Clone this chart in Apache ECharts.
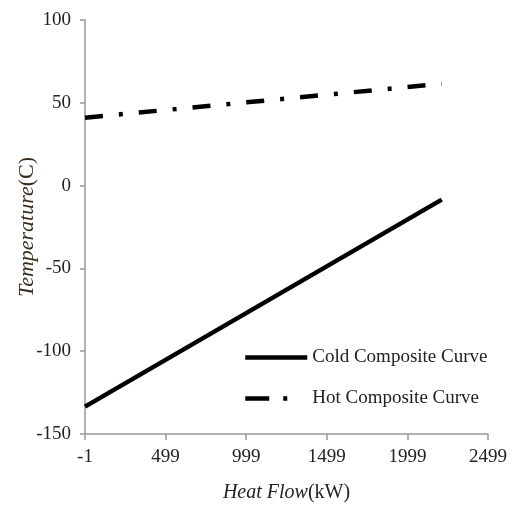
<!DOCTYPE html>
<html>
<head>
<meta charset="utf-8">
<script src="https://cdn.jsdelivr.net/npm/echarts@6/dist/echarts.min.js"></script>
<style>
  html, body { margin: 0; padding: 0; background: #fff; }
  #chart { width: 513px; height: 505px; }
</style>
</head>
<body>
<div id="chart"></div>
<script>
// 数据
var heatFlow = [-1, 2212];
var coldTemp = [-133.5, -8.5];
var hotTemp = [41, 61.5];
var seriesNames = ["Cold Composite Curve", "Hot Composite Curve"];

var chart = echarts.init(document.getElementById("chart"));
var font = "'Liberation Serif', 'DejaVu Serif', serif";
var textColor = "#222";

function pairs(xs, ys) {
  return xs.map(function (x, i) { return [x, ys[i]]; });
}

var option = {
  animation: false,
  textStyle: { fontFamily: font },
  grid: { left: 85, right: 25, top: 20, bottom: 71, outerBoundsMode: "none", containLabel: false },
  legend: {
    orient: "vertical",
    left: 238,
    top: 343,
    itemWidth: 62,
    itemHeight: 10,
    itemGap: 22,
    itemStyle: { opacity: 0 },
    lineStyle: { width: 4.5 },
    textStyle: { fontFamily: font, fontSize: 19, color: textColor },
    data: [
      { name: seriesNames[0] },
      { name: seriesNames[1], lineStyle: { width: 4.5, type: [24, 14, 4, 40] } }
    ]
  },
  xAxis: {
    type: "value",
    min: -1,
    max: 2499,
    interval: 500,
    name: "{i|Heat Flow}{n|(kW)}",
    nameLocation: "middle",
    nameGap: 49,
    nameTextStyle: {
      rich: {
        i: { fontFamily: font, fontSize: 20, fontStyle: "italic", color: textColor },
        n: { fontFamily: font, fontSize: 20, color: textColor }
      }
    },
    splitLine: { show: false },
    axisLine: { onZero: false, lineStyle: { color: "#999", width: 1.5 } },
    axisTick: { show: true, length: 6, lineStyle: { color: "#999", width: 1.5 } },
    axisLabel: {
      fontFamily: font, fontSize: 19, color: textColor, margin: 14,
      formatter: function (v) { return String(v); }
    }
  },
  yAxis: {
    type: "value",
    min: -150,
    max: 100,
    interval: 50,
    name: "{i|Temperature}{n|(C)}",
    nameLocation: "middle",
    nameGap: 47,
    nameMoveOverlap: false,
    nameRotate: 90,
    nameTextStyle: {
      rich: {
        i: { fontFamily: font, fontSize: 22, fontStyle: "italic", color: "#3a2a1a" },
        n: { fontFamily: font, fontSize: 22, color: "#3a2a1a" }
      }
    },
    splitLine: { show: false },
    axisLine: { show: true, onZero: false, lineStyle: { color: "#999", width: 1.5 } },
    axisTick: { show: true, length: 5, lineStyle: { color: "#999", width: 1.5 } },
    axisLabel: {
      fontFamily: font, fontSize: 19, color: textColor, margin: 14,
      formatter: function (v) { return String(v); }
    }
  },
  series: [
    {
      name: seriesNames[0],
      type: "line",
      showSymbol: false,
      symbol: "none",
      data: pairs(heatFlow, coldTemp),
      lineStyle: { color: "#000", width: 4.5 },
      itemStyle: { color: "#000" }
    },
    {
      name: seriesNames[1],
      type: "line",
      showSymbol: false,
      symbol: "none",
      data: pairs(heatFlow, hotTemp),
      lineStyle: { color: "#000", width: 4.5, type: [18, 16, 4, 16] },
      itemStyle: { color: "#000" }
    }
  ]
};
chart.setOption(option);
</script>
</body>
</html>
